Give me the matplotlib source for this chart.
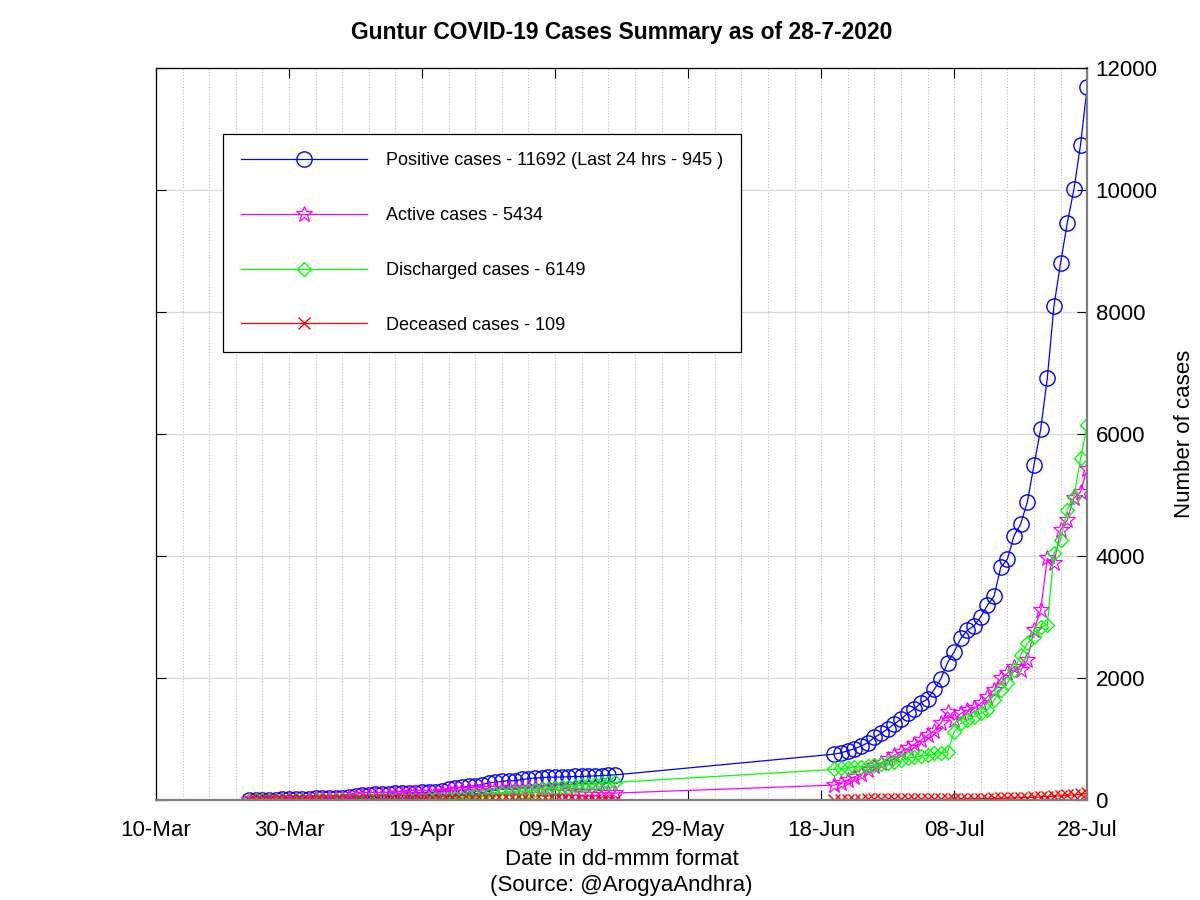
import matplotlib
matplotlib.use('Agg')
import matplotlib.pyplot as plt
import matplotlib.dates as mdates
import pandas as pd

plt.rcParams['font.family'] = ['Liberation Sans', 'DejaVu Sans']

# даты: два непрерывных участка (с 24 марта по 18 мая и с 20 июня по 28 июля)
dates_1 = pd.date_range('2020-03-24', '2020-05-18', freq='D')
dates_2 = pd.date_range('2020-06-20', '2020-07-28', freq='D')
dates = dates_1.append(dates_2)

positive = [
    # 24-31 марта
    0, 0, 0, 4, 9, 14, 20, 20,
    # апрель
    20, 26, 30, 33, 37, 41, 41, 49, 75, 78, 86, 93, 93, 93, 109,
    114, 118, 118, 126, 126, 129, 149, 177, 195, 214, 226, 237, 254, 283, 291,
    # 1-18 мая
    306, 319, 319, 338, 350, 363, 367, 376, 376, 379, 383, 387, 387, 392,
    398, 400, 407, 413,
    # 20-30 июня
    754, 776, 808, 842, 885, 940, 1027, 1093, 1169, 1246, 1328,
    # июль
    1421, 1492, 1595, 1656, 1814, 1989, 2251, 2431, 2650, 2787, 2858, 3005,
    3197, 3344, 3815, 3951, 4333, 4525, 4890, 5492, 6077, 6913, 8103, 8808,
    9459, 10011, 10747, 11692,
]

active = [
    0, 0, 0, 4, 9, 14, 20, 20,
    20, 26, 30, 33, 37, 41, 40, 48, 74, 77, 85, 90, 90, 88, 103,
    106, 110, 109, 114, 110, 109, 125, 148, 159, 167, 169, 169, 176, 190, 183,
    188, 191, 181, 190, 192, 195, 184, 178, 168, 161, 155, 147, 135, 129,
    125, 119, 117, 115,
    246, 284, 328, 383, 426, 492, 557, 612, 667, 738, 792,
    847, 918, 984, 1066, 1136, 1257, 1448, 1311, 1421, 1475, 1503, 1585,
    1693, 1803, 1995, 2077, 2186, 2131, 2295, 2787, 3115, 3962, 3880, 4426,
    4590, 4946, 5054, 5434,
]

discharged = [
    0, 0, 0, 0, 0, 0, 0, 0,
    0, 0, 0, 0, 0, 0, 0, 0, 0, 0, 0, 0, 0, 2, 2,
    4, 4, 5, 8, 12, 16, 20, 25, 30, 40, 50, 60, 70, 85, 100,
    110, 120, 130, 140, 150, 160, 175, 190, 200, 210, 220, 232, 244, 255,
    265, 273, 282, 290,
    503, 519, 525, 536, 546, 557, 574, 590, 612, 628, 656,
    683, 710, 721, 738, 765, 776, 792, 1120, 1257, 1311, 1366, 1421,
    1475, 1639, 1803, 1913, 2131, 2377, 2568, 2677, 2841, 2869, 4044, 4262,
    4754, 4972, 5601, 6149,
]

deceased = [
    0, 0, 0, 0, 0, 0, 0, 0,
    0, 0, 0, 0, 0, 0, 1, 1, 1, 1, 1, 3, 3, 3, 4,
    4, 4, 4, 4, 4, 4, 4, 4, 6, 7, 7, 8, 8, 8, 8,
    8, 8, 8, 8, 8, 8, 8, 8, 8, 8, 8, 8, 8, 8,
    8, 8, 8, 8,
    8, 8, 9, 9, 9, 10, 10, 11, 11, 12, 12,
    12, 13, 13, 14, 14, 15, 15, 16, 18, 20, 21, 23, 25,
    27, 29, 32, 35, 38, 42, 46, 52, 58, 64, 71, 79, 88, 98, 109,
]

last_24 = 945

labels = [
    f'Positive cases - {positive[-1]} (Last 24 hrs - {last_24} )',
    f'Active cases - {active[-1]}',
    f'Discharged cases - {discharged[-1]}',
    f'Deceased cases - {deceased[-1]}',
]

fig = plt.figure(figsize=(12, 9), dpi=100)
ax = fig.add_axes([0.13, 0.111, 0.776, 0.8133])

# линии с полыми маркерами
ax.plot(dates, positive, color='#0000ff', lw=0.9, marker='o', ms=11,
        mfc='none', mec='#0000ff', mew=1.0, label=labels[0])
ax.plot(dates, active, color='#ff00ff', lw=0.9, marker='*', ms=12,
        mfc='none', mec='#ff00ff', mew=0.9, label=labels[1])
ax.plot(dates, discharged, color='#00ff00', lw=0.9, marker='D', ms=7.5,
        mfc='none', mec='#00ff00', mew=1.0, label=labels[2])
ax.plot(dates, deceased, color='#ff0000', lw=0.9, marker='x', ms=9,
        mec='#ff0000', mew=1.0, label=labels[3])

ax.set_xlim(pd.Timestamp('2020-03-10'), pd.Timestamp('2020-07-28'))
ax.set_ylim(0, 12000)

major_days = pd.date_range('2020-03-10', '2020-07-28', freq='20D')
minor_days = pd.date_range('2020-03-10', '2020-07-28', freq='4D')
ax.xaxis.set_major_locator(matplotlib.ticker.FixedLocator(mdates.date2num(major_days)))
ax.xaxis.set_minor_locator(matplotlib.ticker.FixedLocator(mdates.date2num(minor_days)))
ax.xaxis.set_major_formatter(mdates.DateFormatter('%d-%b'))
ax.set_yticks(range(0, 12001, 2000))

ax.yaxis.tick_right()
ax.yaxis.set_label_position('right')
ax.tick_params(axis='both', which='major', direction='in', length=7,
               labelsize=16, top=True, bottom=True, left=True, right=True,
               color='black')
ax.tick_params(axis='x', which='minor', length=0)
ax.tick_params(axis='x', which='major', pad=14)
ax.tick_params(axis='y', which='major', pad=6)

# сетка: вертикальная пунктирная, горизонтальная сплошная
ax.grid(True, axis='x', which='both', linestyle=':', color='#bdbdbd', lw=0.8)
ax.grid(True, axis='y', which='major', linestyle='-', color='#d9d9d9', lw=0.9)
ax.set_axisbelow(True)

for side in ['left', 'top']:
    ax.spines[side].set_color('black')
    ax.spines[side].set_linewidth(0.9)
for side in ['right', 'bottom']:
    ax.spines[side].set_color('#7f7f7f')
    ax.spines[side].set_linewidth(1.6)

ax.set_title('Guntur COVID-19 Cases Summary as of 28-7-2020',
             fontsize=16.5, fontweight='bold', pad=21)
ax.set_xlabel('Date in dd-mmm format\n(Source: @ArogyaAndhra)', fontsize=16,
              labelpad=6, linespacing=1.3)
ax.set_ylabel('Number of cases', fontsize=16, labelpad=12)

leg = ax.legend(loc='upper left', bbox_to_anchor=(0.072, 0.910),
                borderaxespad=0, fontsize=13, handlelength=7.0,
                handletextpad=1.0, labelspacing=2.1, borderpad=1.0,
                fancybox=False, framealpha=1, edgecolor='black')
leg.get_frame().set_linewidth(0.9)

fig.savefig('out.png', dpi=100)
